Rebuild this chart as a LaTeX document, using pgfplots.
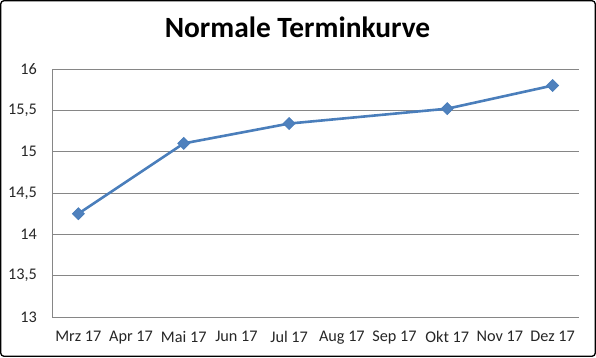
\documentclass[border=0pt]{standalone}
\usepackage{pgfplots}
\pgfplotsset{compat=1.18}
\usepackage{fontspec}
\setmainfont{Carlito}
\definecolor{linecol}{HTML}{4A7EBB}
\definecolor{markcol}{HTML}{4F81BD}
\definecolor{gridcol}{HTML}{868686}
\begin{document}
\begin{tikzpicture}[x=1bp,y=1bp]
\useasboundingbox (0,0) rectangle (596,357);
\draw[black, line width=1.3bp, rounded corners=3bp] (0.8,0.8) rectangle (595.2,356.2);
\node[anchor=base, font=\fontsize{29.5}{34}\selectfont\bfseries] at (297.5,320) {Normale Terminkurve};
\begin{axis}[
  at={(52bp,40bp)}, anchor=south west,
  scale only axis, width=527bp, height=248bp,
  xmin=-0.5, xmax=9.5, ymin=13, ymax=16,
  xtick={0,...,9},
  xticklabels={Mrz 17,Apr 17,Mai 17,Jun 17,Jul 17,Aug 17,Sep 17,Okt 17,Nov 17,Dez 17},
  ytick={13,13.5,...,16},
  /pgf/number format/use comma,
  /pgf/number format/assume math mode=true,
  major tick length=0pt,
  axis x line*=bottom, axis y line*=left,
  axis line style={gridcol, line width=0.9bp, -},
  ymajorgrids, grid style={gridcol, line width=0.9bp},
  tick label style={font=\fontsize{16.3}{19}\selectfont, text=black!85},
  yticklabel style={inner sep=0pt, xshift=-15bp},
  xticklabel style={inner sep=0pt, yshift=-14bp},
  clip=false,
]
\addplot[linecol, line width=2.6bp, mark=square*, mark size=4.2bp,
  mark options={rotate=45, fill=markcol, draw=linecol, line width=0.8bp}]
  coordinates {(0,14.25) (2,15.1) (4,15.34) (7,15.52) (9,15.8)};
\end{axis}
\end{tikzpicture}
\end{document}
